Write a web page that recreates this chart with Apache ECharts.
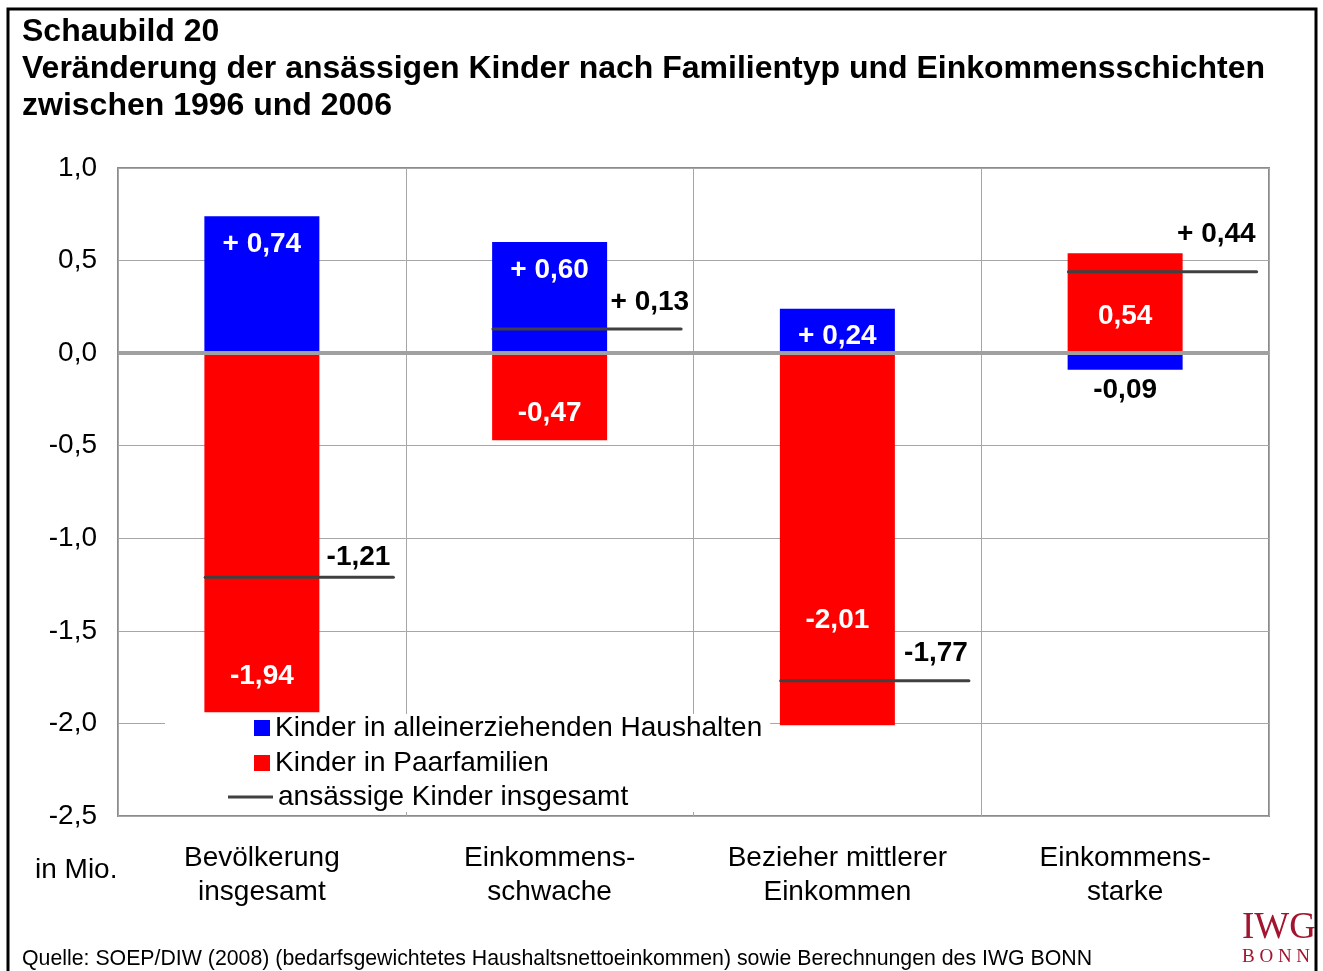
<!DOCTYPE html>
<html>
<head>
<meta charset="utf-8">
<script src="https://cdn.jsdelivr.net/npm/echarts@6/dist/echarts.min.js"></script>
<style>
html, body { margin: 0; padding: 0; background: #fff; }
#main { width: 1323px; height: 971px; }
</style>
</head>
<body>
<div id="main"></div>
<script>
// Daten (Mio. Kinder, Veränderung 1996-2006)
var categories = ['Bevölkerung\ninsgesamt', 'Einkommens-\nschwache', 'Bezieher mittlerer\nEinkommen', 'Einkommens-\nstarke'];
var alleinerziehend = [0.74, 0.60, 0.24, -0.09];
var paarfamilien = [-1.94, -0.47, -2.01, 0.54];
var insgesamt = [-1.21, 0.13, -1.77, 0.44];

// Lage der Beschriftung an der Linie (px): nach oben / nach rechts
var labelLift = [20, 27, 28, 37];
var labelShift = [-2, 9, 0, 0];

var FONT = '"Liberation Sans", Arial, sans-serif';

function fmt(v, plus) {
    var s = Math.abs(v).toFixed(2).replace('.', ',');
    if (v < 0) return '-' + s;
    return plus ? '+ ' + s : s;
}

var whiteLbl = { color: '#fff', fontWeight: 'bold', fontSize: 28, fontFamily: FONT };

var blueData = alleinerziehend.map(function (v) {
    if (v >= 0) {
        return { value: v, label: { show: true, position: 'insideTop', distance: 14 } };
    }
    return { value: v, label: { show: true, position: 'bottom', distance: 6, color: '#000' } };
});

//Beschriftung der roten Balken, von Hand wie im Original platziert
var redLabelPos = [
    { position: 'insideBottom', distance: 22 },
    { position: 'insideBottom', distance: 13 },
    { position: 'insideBottom', distance: 91 },
    { position: 'inside', offset: [0, 13] }
];
var redData = paarfamilien.map(function (v, i) {
    return { value: v, label: Object.assign({ show: true }, redLabelPos[i]) };
});

var myChart = echarts.init(document.getElementById('main'));

var option = {
    animation: false,
    backgroundColor: '#fff',
    grid: {
        left: 118, top: 168, width: 1151, height: 648,
        show: true, borderColor: '#8c8c8c', borderWidth: 2, backgroundColor: 'transparent'
    },
    legend: [{
        data: [
            { name: 'Kinder in alleinerziehenden Haushalten', icon: 'rect' },
            { name: 'Kinder in Paarfamilien', icon: 'rect' }
        ],
        orient: 'vertical',
        left: 165, top: 714,
        padding: [0, 8, 35, 89],
        backgroundColor: '#fff',
        itemWidth: 16, itemHeight: 16, itemGap: 7,
        textStyle: { fontSize: 28, lineHeight: 28, color: '#000', fontFamily: FONT },
        selectedMode: false
    }, {
        data: [{ name: 'ansässige Kinder insgesamt', icon: 'rect' }],
        left: 228, top: 783, z: 6,
        padding: 0,
        itemWidth: 45, itemHeight: 3,
        textStyle: { fontSize: 28, lineHeight: 28, color: '#000', fontFamily: FONT },
        selectedMode: false
    }],
    xAxis: {
        type: 'category',
        data: categories,
        axisLine: { show: false, onZero: false },
        axisTick: { show: false },
        splitLine: { show: true, lineStyle: { color: '#a6a6a6', width: 1 } },
        axisLabel: { interval: 0, fontSize: 28, lineHeight: 34, margin: 25, color: '#000', fontFamily: FONT }
    },
    yAxis: {
        type: 'value',
        min: -2.5, max: 1.0, interval: 0.5,
        axisLine: { show: false },
        axisTick: { show: false },
        splitLine: { lineStyle: { color: '#a6a6a6', width: 1 } },
        axisLabel: {
            fontSize: 28, margin: 21, color: '#000', fontFamily: FONT,
            formatter: function (v) { return v.toFixed(1).replace('.', ','); }
        }
    },
    series: [{
        name: 'Kinder in alleinerziehenden Haushalten',
        type: 'bar',
        stack: 'kinder',
        barWidth: 115,
        data: blueData,
        itemStyle: { color: '#0000ff' },
        label: Object.assign({
            formatter: function (p) { return fmt(p.value, true); }
        }, whiteLbl)
    }, {
        name: 'Kinder in Paarfamilien',
        type: 'bar',
        stack: 'kinder',
        barWidth: 115,
        data: redData,
        itemStyle: { color: '#ff0000' },
        label: Object.assign({
            formatter: function (p) { return fmt(p.value, false); }
        }, whiteLbl),
        markLine: {
            silent: true,
            symbol: ['none', 'none'],
            label: { show: false },
            lineStyle: { color: '#a0a0a0', width: 4, type: 'solid' },
            data: [{ yAxis: 0 }]
        }
    }, {
        name: 'ansässige Kinder insgesamt',
        type: 'custom',
        z: 5,
        itemStyle: { color: '#404040' },
        data: insgesamt.map(function (v, i) { return [i, v]; }),
        renderItem: function (params, api) {
            var i = params.dataIndex;
            var c = api.coord([api.value(0), api.value(1)]);
            var band = api.size([1, 0])[0];
            var x1 = c[0] - band * 0.197;
            var x2 = c[0] + band * 0.457;
            return {
                type: 'group',
                children: [{
                    type: 'line',
                    shape: { x1: x1, y1: c[1], x2: x2, y2: c[1] },
                    style: { stroke: '#404040', lineWidth: 3, lineCap: 'round' }
                }, {
                    type: 'text',
                    x: x2 + 1 + labelShift[i],
                    y: c[1] - labelLift[i],
                    style: {
                        text: fmt(api.value(1), true),
                        fill: '#000',
                        font: 'bold 28px ' + FONT,
                        align: 'right',
                        verticalAlign: 'middle',
                        backgroundColor: '#fff',
                        padding: [1, 2]
                    }
                }]
            };
        }
    }],
    graphic: [{
        type: 'rect',
        shape: { x: 8, y: 9, width: 1308, height: 1000 },
        style: { fill: 'none', stroke: '#000', lineWidth: 3 },
        silent: true
    }, {
        type: 'text',
        left: 22, top: 14,
        style: {
            text: 'Schaubild 20\nVeränderung der ansässigen Kinder nach Familientyp und Einkommensschichten\nzwischen 1996 und 2006',
            font: 'bold 32px ' + FONT,
            lineHeight: 37,
            fill: '#000'
        }
    }, {
        type: 'text',
        left: 35, top: 856,
        style: { text: 'in Mio.', font: '28px ' + FONT, fill: '#000' }
    }, {
        type: 'text',
        left: 22, top: 949,
        style: {
            text: 'Quelle: SOEP/DIW (2008) (bedarfsgewichtetes Haushaltsnettoeinkommen) sowie Berechnungen des IWG BONN',
            font: '21.3px ' + FONT, fill: '#000'
        }
    }, {
        type: 'text',
        left: 1242, top: 910,
        style: { text: 'IWG', font: '37px "Liberation Serif", "Times New Roman", serif', fill: '#a3142f' }
    }, {
        type: 'text',
        left: 1242, top: 948,
        style: { text: 'B O N N', font: '19px "Liberation Serif", "Times New Roman", serif', fill: '#a3142f' }
    }]
};

myChart.setOption(option);
</script>
</body>
</html>
